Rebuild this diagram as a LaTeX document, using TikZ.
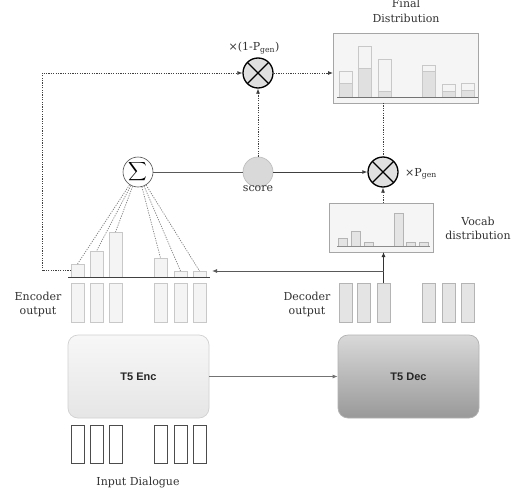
\documentclass[tikz,border=0pt]{standalone}
\usepackage{graphicx}
\usepackage{fontspec}
\setmainfont{DejaVu Serif}
\newfontfamily\boxfont{Liberation Sans}
\usetikzlibrary{arrows.meta}

\definecolor{txt}{HTML}{333333}
\definecolor{barfill}{HTML}{F4F4F4}
\definecolor{barline}{HTML}{C8C8C8}
\definecolor{decfill}{HTML}{E4E4E4}
\definecolor{decline}{HTML}{B4B4B4}
\definecolor{darkbar}{HTML}{E0E0E0}

\tikzset{
  lbl/.style={text=txt, font=\fontsize{11}{13}\selectfont, inner sep=0pt, align=center},
  barbase/.style={rectangle, anchor=north west, inner sep=0pt, outer sep=0pt, minimum width=13pt},
  encbar/.style={barbase, draw=barline, fill=barfill, line width=0.6pt},
  decbar/.style={barbase, draw=decline, fill=decfill, line width=0.6pt},
  inbar/.style={barbase, draw=black!70, fill=white, line width=0.7pt},
  hibar/.style={barbase, draw=barline, fill=barfill, line width=0.6pt},
  lobar/.style={barbase, draw=barline, fill=darkbar, line width=0.6pt},
  vbar/.style={barbase, minimum width=9pt, draw=decline, fill=decfill, line width=0.6pt},
  panel/.style={rectangle, draw=black!35, fill=black!4, line width=0.8pt, inner sep=0pt, outer sep=0pt},
  otimes/.style={circle, draw=black, line width=1.3pt, fill=black!12, minimum size=30pt, inner sep=0pt,
    path picture={\draw[line width=1.3pt]
      (path picture bounding box.south west) -- (path picture bounding box.north east)
      (path picture bounding box.north west) -- (path picture bounding box.south east);}},
  dotline/.style={draw=black!75, line width=0.8pt, dash pattern=on 1.2pt off 1.2pt},
  fanline/.style={draw=black!50, line width=0.7pt, dash pattern=on 1.2pt off 1.2pt},
  tip/.style={-{Latex[length=5pt,width=4pt]}},
  solidline/.style={draw=black!65, line width=0.9pt},
  model/.style={rectangle, rounded corners=10pt, minimum width=141pt, minimum height=83pt,
    font=\boxfont\bfseries\fontsize{11}{13}\selectfont, text=black!85, line width=0.7pt},
}

\begin{document}
\begin{tikzpicture}[x=1pt, y=-1pt]
  \useasboundingbox[fill=white] (0,0) rectangle (518,495);

  % ---------- encoder / decoder blocks ----------
  \node[model, draw=black!18, top color=black!3, bottom color=black!10] (enc) at (138.5,376.5) {T5 Enc};
  \node[model, draw=black!30, top color=black!15, bottom color=black!40] (dec) at (408.5,376.5) {T5 Dec};
  \draw[solidline, draw=black!55, tip] (enc.east) -- (dec.west);

  % ---------- input tokens ----------
  \foreach \i/\x in {1/71, 2/90, 3/109, 4/154, 5/174, 6/193}
    \node[inbar, minimum height=38pt] (in\i) at (\x,425) {};
  \node[lbl] (inlbl) at (138,483) {Input Dialogue};

  % ---------- encoder output ----------
  \foreach \i/\x in {1/71, 2/90, 3/109, 4/154, 5/174, 6/193}
    \node[encbar, minimum height=39pt] (eo\i) at (\x,283) {};
  \node[lbl] (enclbl) at (38,304) {Encoder\\[1pt]output};

  % attention weights over the encoder states
  \foreach \i/\x/\t in {1/71/264, 2/90/251, 3/109/232, 4/154/258, 5/174/271, 6/193/271}{
    \pgfmathsetmacro{\h}{277-\t}
    \node[encbar, minimum height=\h pt] (att\i) at (\x,\t) {};
  }
  \coordinate (baseL) at (68,277);
  \coordinate (baseR) at (210,277);
  \draw[draw=black!75, line width=0.9pt] (baseL) -- (baseR);

  % ---------- decoder output ----------
  \foreach \i/\x in {1/339, 2/357, 3/377, 4/422, 5/442, 6/461}
    \node[decbar, minimum height=39pt] (do\i) at (\x,283) {};
  \node[lbl] (declbl) at (307,304) {Decoder\\[1pt]output};

  % ---------- vocabulary distribution ----------
  \node[panel, minimum width=104pt, minimum height=49pt] (vocab) at (381,227.5) {};
  \foreach \i/\x/\t in {1/338/238, 2/351/231, 3/364/242, 4/394/213, 5/406/242, 6/419/242}{
    \pgfmathsetmacro{\h}{246-\t}
    \node[vbar, minimum height=\h pt] (vb\i) at (\x,\t) {};
  }
  \coordinate (vbL) at (337,246);
  \coordinate (vbR) at (430,246);
  \draw[draw=black!45, line width=0.8pt] (vbL) -- (vbR);
  \node[lbl] (voclbl) at (478,228.5) {Vocab\\[1pt]distribution};

  % ---------- final distribution ----------
  \node[panel, minimum width=145pt, minimum height=70pt] (final) at (405.5,68) {};
  \foreach \i/\x/\t/\m in {1/339/71/83, 2/358/46/68, 3/378/59/91, 4/422/65/71, 5/442/84/91, 6/461/83/90}{
    \pgfmathsetmacro{\h}{97-\t}
    \pgfmathsetmacro{\g}{97-\m}
    \node[hibar, minimum height=\h pt] (fh\i) at (\x,\t) {};
    \node[lobar, minimum height=\g pt] (fl\i) at (\x,\m) {};
  }
  \coordinate (fbL) at (337,97);
  \coordinate (fbR) at (478,97);
  \draw[draw=black!55, line width=0.8pt] (fbL) -- (fbR);
  \node[lbl] (finlbl) at (406,11) {Final\\[2.5pt]Distribution};

  % ---------- pointer / generator mixing ----------
  \node[circle, draw=black!70, fill=white, line width=0.6pt, minimum size=30pt, inner sep=0pt,
        label={[inner sep=0pt]center:\scalebox{1.3}{$\displaystyle\sum$}}] (sum) at (138,172) {};
  \node[circle, draw=black!25, fill=black!15, line width=0.7pt, minimum size=30pt, inner sep=0pt] (score) at (258,172) {};
  \node[lbl, anchor=north] (scorelbl) at (258,185) {score};
  \node[otimes] (ot1) at (258,73) {};
  \node[otimes] (ot2) at (383,172) {};
  \node[lbl] (ot1lbl) at (254,48) {×(1-P\textsubscript{gen})};
  \node[lbl, anchor=west] (ot2lbl) at (405,174) {×P\textsubscript{gen}};

  \draw[solidline] (sum) -- (score);
  \draw[solidline, draw=black!75, tip] (score) -- (ot2);
  \draw[dotline, tip] (score) -- (ot1);
  \draw[dotline, tip] (ot1.east) -- (ot1.east -| final.west);
  \draw[dotline] (ot2.north |- final.south) -- (ot2.north);
  \draw[dotline, tip] (ot2.south |- vocab.north) -- (ot2.south);

  % attention fan into the sum
  \foreach \i in {1,...,6}
    \draw[fanline] (sum) -- (att\i.north);

  % copy path from the attention weights
  \coordinate (corner) at (42,270.5);
  \draw[dotline, tip] (att1.west) -- (corner) |- (ot1.west);

  % decoder state feeds the vocabulary and the attention
  \coordinate (tap) at (383.5,271);
  \coordinate (encin) at (212,271);
  \draw[solidline, draw=black!80, tip] (do3.north) -- (do3.north |- vocab.south);
  \draw[solidline, tip] (tap) -- (encin);
\end{tikzpicture}
\end{document}
